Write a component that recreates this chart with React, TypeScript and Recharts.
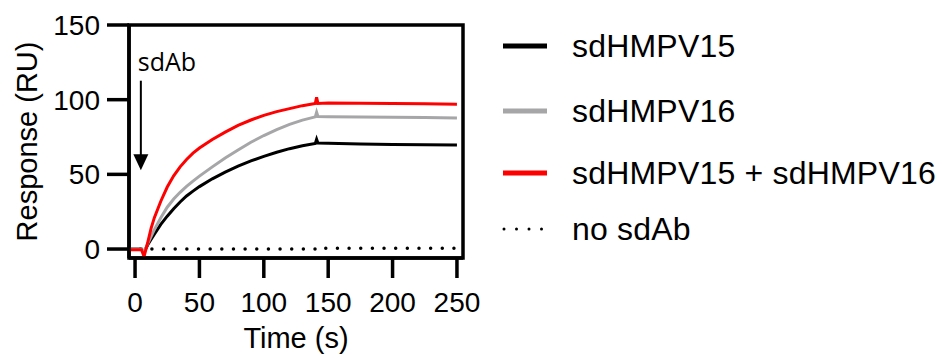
import React from 'react';
import { LineChart, Line, XAxis, YAxis, ReferenceArea, ReferenceLine, ReferenceDot, Legend } from 'recharts';

const times = [-5, 0, 5, 7, 10, 12.5, 15, 20, 25, 30, 35, 40, 45, 50, 60, 70, 80, 90, 100, 110, 120, 130, 140, 141, 142, 150, 175, 200, 225, 250];
const sdHMPV15 = [0, 0, 0, -2, 3, 6.5, 10, 16.5, 22, 27, 31.5, 35.5, 38.8, 41.8, 47, 51.5, 55.5, 59, 62, 64.8, 67.2, 69.2, 70.7, 73.5, 71, 70.8, 70.4, 70, 69.8, 69.6];
const sdHMPV16 = [0, 0, 0, -2, 4, 8.5, 13, 21, 28, 33.5, 38, 42, 45.5, 48.8, 55, 61, 66.3, 71.5, 76, 80, 83.5, 86.3, 88.5, 91.5, 88.7, 88.6, 88.4, 88.2, 88, 87.8];
const sdHMPV15plus16 = [-0.5, -0.5, -0.5, -5, 5, 14, 21, 32, 41.5, 49, 55, 60, 64.2, 67.6, 73.3, 78.3, 82.8, 86.4, 89.5, 92, 94, 96, 97.5, 101.5, 97.5, 97.8, 97.6, 97.4, 97.2, 97];
const noSdAb = [0, 0, 0, 0, 0, 0, 0, 0, 0, 0, 0, 0, 0, 0, 0, 0, 0, 0, 0, 0, 0, 0, 0, 1, 0.5, 0.5, 0.5, 0.5, 0.5, 0.5];

const xTicks = [0, 50, 100, 150, 200, 250];
const yTicks = [0, 50, 100, 150];
const xDomain = [-4.7, 254.7];
const yDomain = [-6, 150];

const seriesNames = ['sdHMPV15', 'sdHMPV16', 'sdHMPV15 + sdHMPV16', 'no sdAb'];
const seriesColors = ['#000000', '#a6a6a8', '#ff0000', '#000000'];

const injection = { t: 4.5, arrowTop: 112.7, arrowTip: 52.7, labelY: 119.3, label: 'sdAb' };

const data = times.map((t, i) => ({
  t,
  s15: sdHMPV15[i],
  s16: sdHMPV16[i],
  combo: sdHMPV15plus16[i],
  none: noSdAb[i],
}));

const FONT = '"Liberation Sans", Arial, Helvetica, sans-serif';
const legendCenters = [46, 111, 173, 229];

function LegendContent() {
  return (
    <div style={{ position: 'relative', width: 452, height: 260, fontFamily: FONT }}>
      {seriesNames.map((name, i) => (
        <div
          key={name}
          style={{
            position: 'absolute',
            left: 0,
            top: legendCenters[i] - 20,
            height: 40,
            display: 'flex',
            alignItems: 'center',
            whiteSpace: 'nowrap',
          }}
        >
          <svg width={82} height={40} style={{ display: 'block' }}>
            {i < 3 ? (
              <line x1={13} x2={57} y1={20} y2={20} stroke={seriesColors[i]} strokeWidth={5} />
            ) : (
              <line
                x1={14}
                x2={57}
                y1={20}
                y2={20}
                stroke={seriesColors[i]}
                strokeWidth={3}
                strokeDasharray="0 12.5"
                strokeLinecap="round"
              />
            )}
          </svg>
          <span style={{ fontSize: 32, color: '#000', letterSpacing: 0.2 }}>{name}</span>
        </div>
      ))}
    </div>
  );
}

const Arrowhead = (props: any) => {
  const { cx, cy } = props;
  if (cx == null || cy == null) return null;
  return <polygon points={`${cx - 7.5},${cy - 16} ${cx + 7.5},${cy - 16} ${cx},${cy}`} fill="#000" />;
};

const InjectionLabel = (props: any) => {
  const { cx, cy } = props;
  if (cx == null || cy == null) return null;
  return (
    <text x={cx - 3} y={cy} fontSize={25} fontFamily='"Open Sans", sans-serif' fill="#000">
      {injection.label}
    </text>
  );
};

export default function App() {
  const tickStyle = { fill: '#000', fontSize: 28, fontFamily: FONT };
  return (
    <div style={{ position: 'absolute', left: 0, top: 0, width: 942, height: 358, background: '#fff' }}>
      <LineChart width={942} height={358} data={data} margin={{ top: 25, right: 479, bottom: 0, left: 29 }}>
        <XAxis
          dataKey="t"
          type="number"
          domain={xDomain}
          ticks={xTicks}
          allowDataOverflow
          height={100}
          tickSize={20}
          tickMargin={14}
          tick={tickStyle}
          axisLine={{ stroke: '#000', strokeWidth: 3.5 }}
          tickLine={{ stroke: '#000', strokeWidth: 3.5 }}
          label={{
            value: 'Time (s)',
            position: 'insideBottom',
            offset: 10,
            style: { fill: '#000', fontSize: 29, fontFamily: FONT },
          }}
        />
        <YAxis
          type="number"
          domain={yDomain}
          ticks={yTicks}
          allowDataOverflow
          width={100}
          tickSize={22}
          tickMargin={7}
          tick={tickStyle}
          axisLine={{ stroke: '#000', strokeWidth: 3.5 }}
          tickLine={{ stroke: '#000', strokeWidth: 3.5 }}
          label={{
            value: 'Response (RU)',
            angle: -90,
            position: 'insideLeft',
            offset: -2.5,
            style: { textAnchor: 'middle', fill: '#000', fontSize: 29, fontFamily: FONT },
          }}
        />
        <ReferenceArea
          x1={xDomain[0]}
          x2={xDomain[1]}
          y1={yDomain[0]}
          y2={yDomain[1]}
          fill="none"
          fillOpacity={0}
          stroke="#000"
          strokeWidth={3.5}
        />
        <Line dataKey="none" name={seriesNames[3]} stroke={seriesColors[3]} strokeWidth={3.5} strokeDasharray="0 11.65" strokeLinecap="round" dot={false} isAnimationActive={false} type="linear" />
        <Line dataKey="s15" name={seriesNames[0]} stroke={seriesColors[0]} strokeWidth={3} dot={false} isAnimationActive={false} type="linear" />
        <Line dataKey="s16" name={seriesNames[1]} stroke={seriesColors[1]} strokeWidth={3} dot={false} isAnimationActive={false} type="linear" />
        <Line dataKey="combo" name={seriesNames[2]} stroke={seriesColors[2]} strokeWidth={3} dot={false} isAnimationActive={false} type="linear" />
        <ReferenceLine
          segment={[
            { x: injection.t, y: injection.arrowTop },
            { x: injection.t, y: injection.arrowTip + 8 },
          ]}
          stroke="#000"
          strokeWidth={2}
        />
        <ReferenceDot x={injection.t} y={injection.arrowTip} shape={Arrowhead} />
        <ReferenceDot x={injection.t} y={injection.labelY} shape={InjectionLabel} />
        <Legend
          layout="vertical"
          align="center"
          verticalAlign="middle"
          content={<LegendContent />}
          wrapperStyle={{ left: 490, top: 0, width: 452, height: 260 }}
        />
      </LineChart>
    </div>
  );
}
